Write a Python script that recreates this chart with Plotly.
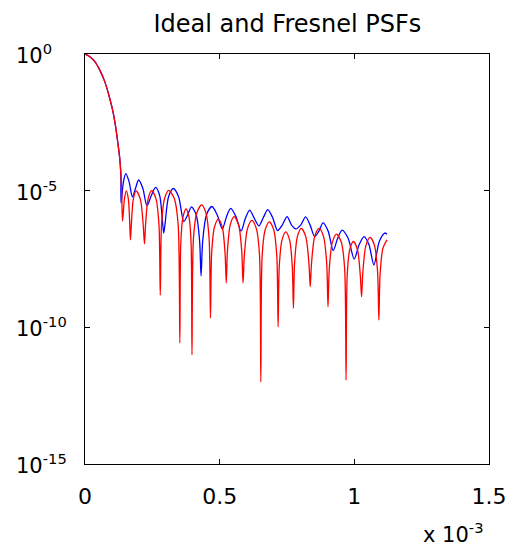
import plotly.graph_objects as go

# Shared main lobe (x in units of 1e-3, log10 of PSF value)
main_x = [0.0000, 0.0183, 0.0367, 0.0550, 0.0734, 0.0917, 0.1038, 0.1137, 0.1221, 0.1284, 0.1331]
main_log = [0.00, -0.10, -0.28, -0.59, -1.01, -1.62, -2.11, -2.66, -3.27, -3.76, -4.37]

# Ideal PSF side lobes (blue)
ideal_x = [0.1339, 0.1427, 0.1515, 0.1638, 0.1760, 0.1876, 0.1991, 0.2146, 0.2300, 0.2461,
           0.2622, 0.2773, 0.2878, 0.2923, 0.2977, 0.3103, 0.3282, 0.3475, 0.3668, 0.3811,
           0.3953, 0.4131, 0.4256, 0.4309, 0.4370, 0.4511, 0.4713, 0.4906, 0.5098, 0.5254,
           0.5410, 0.5603, 0.5795, 0.5955, 0.6114, 0.6285, 0.6455, 0.6620, 0.6785, 0.6969,
           0.7152, 0.7328, 0.7504, 0.7664, 0.7823, 0.8007, 0.8190, 0.8359, 0.8527, 0.8683,
           0.8839, 0.9028, 0.9216, 0.9381, 0.9546, 0.9770, 0.9994, 1.0178, 1.0361, 1.0544,
           1.0727, 1.0929, 1.1131, 1.1211]
ideal_log = [-5.45, -4.68, -4.38, -4.68, -5.23, -4.91, -4.61, -4.91, -5.55, -5.18,
             -4.88, -5.18, -6.14, -6.55, -6.18, -5.22, -4.92, -5.22, -6.13, -5.89,
             -5.59, -5.89, -6.85, -8.12, -6.84, -5.88, -5.58, -5.88, -6.40, -5.95,
             -5.65, -5.95, -6.48, -6.01, -5.71, -6.01, -6.29, -5.99, -5.69, -5.99,
             -6.46, -6.25, -5.95, -6.25, -6.40, -6.26, -5.96, -6.26, -6.68, -6.48,
             -6.18, -6.48, -7.19, -6.74, -6.44, -6.74, -7.50, -6.98, -6.68, -6.98,
             -7.72, -6.85, -6.55, -6.59]

# Fresnel PSF side lobes (red)
fresnel_x = [0.1360, 0.1394, 0.1464, 0.1533, 0.1610, 0.1664, 0.1687, 0.1719, 0.1794, 0.1900,
             0.2054, 0.2162, 0.2208, 0.2248, 0.2342, 0.2476, 0.2636, 0.2747, 0.2795, 0.2842,
             0.2953, 0.3110, 0.3316, 0.3459, 0.3521, 0.3556, 0.3637, 0.3752, 0.3862, 0.3939,
             0.3972, 0.4025, 0.4150, 0.4328, 0.4493, 0.4609, 0.4658, 0.4702, 0.4805, 0.4951,
             0.5098, 0.5201, 0.5245, 0.5289, 0.5392, 0.5538, 0.5703, 0.5819, 0.5868, 0.5918,
             0.6033, 0.6198, 0.6363, 0.6479, 0.6528, 0.6576, 0.6688, 0.6847, 0.7009, 0.7122,
             0.7170, 0.7213, 0.7313, 0.7456, 0.7597, 0.7696, 0.7738, 0.7782, 0.7885, 0.8032,
             0.8197, 0.8313, 0.8362, 0.8412, 0.8527, 0.8692, 0.8857, 0.8973, 0.9022, 0.9070,
             0.9182, 0.9341, 0.9517, 0.9640, 0.9693, 0.9734, 0.9829, 0.9965, 1.0117, 1.0223,
             1.0269, 1.0317, 1.0429, 1.0588, 1.0750, 1.0863, 1.0911, 1.0956, 1.1062, 1.1212]
fresnel_log = [-5.00, -6.11, -5.31, -5.01, -5.31, -6.27, -6.80, -6.27, -5.31, -5.01,
               -5.31, -6.27, -6.95, -6.26, -5.30, -5.00, -5.30, -6.26, -8.82, -6.25,
               -5.29, -4.99, -5.29, -6.25, -10.57, -6.93, -5.97, -5.67, -5.97, -6.93,
               -11.01, -6.78, -5.82, -5.52, -5.82, -6.78, -9.66, -7.30, -6.34, -6.04,
               -6.34, -7.30, -8.38, -7.21, -6.25, -5.95, -6.25, -7.21, -8.38, -7.35,
               -6.39, -6.09, -6.39, -7.35, -12.00, -7.40, -6.44, -6.14, -6.44, -7.40,
               -9.98, -7.77, -6.81, -6.51, -6.81, -7.77, -9.30, -7.64, -6.68, -6.38,
               -6.68, -7.64, -8.51, -7.64, -6.68, -6.38, -6.68, -7.64, -9.25, -7.85,
               -6.89, -6.59, -6.89, -7.85, -11.93, -8.12, -7.16, -6.86, -7.16, -8.12,
               -8.88, -7.97, -7.01, -6.71, -7.01, -7.97, -9.73, -8.06, -7.10, -6.80]

x_ticks = [0, 0.5, 1, 1.5]
x_tick_text = ["0", "0.5", "1", "1.5"]
y_tick_exps = [0, -5, -10, -15]

blue_x = main_x + ideal_x
blue_y = [10 ** v for v in main_log + ideal_log]
red_x = main_x + fresnel_x
red_y = [10 ** v for v in main_log + fresnel_log]

FONT = "DejaVu Sans"
W, H = 511, 544

fig = go.Figure()
fig.add_trace(go.Scatter(x=blue_x, y=blue_y, mode="lines",
                         line=dict(color="#0000ff", width=1.3, shape="spline", smoothing=0.8),
                         name="Ideal"))
fig.add_trace(go.Scatter(x=red_x, y=red_y, mode="lines",
                         line=dict(color="#ff0000", width=1.3, shape="spline", smoothing=0.8),
                         name="Fresnel"))

annotations = []
for e in y_tick_exps:
    annotations.append(dict(text=f"10<sup>{e}</sup>", xref="paper", yref="y",
                            x=-0.176, y=e, xanchor="left", yanchor="middle",
                            yshift=0, showarrow=False,
                            font=dict(family=FONT, size=21, color="black")))
annotations.append(dict(text="x 10<sup>-3</sup>", xref="paper", yref="paper",
                        x=0.99, y=-0.168, xanchor="right", yanchor="middle",
                        showarrow=False, font=dict(family=FONT, size=21, color="black")))

fig.update_layout(
    width=W, height=H,
    margin=dict(l=77, r=26, t=46, b=88),
    paper_bgcolor="white", plot_bgcolor="white",
    showlegend=False,
    title=dict(text="Ideal and Fresnel PSFs", x=0.501, xref="paper", xanchor="center",
               y=1 - 16 / H, yref="container", yanchor="middle",
               font=dict(family=FONT, size=24, color="black")),
    xaxis=dict(range=[0, 1.5], tickvals=x_ticks, ticktext=x_tick_text,
               ticks="inside", ticklen=5, tickcolor="black", tickwidth=1,
               showline=True, linecolor="black", linewidth=1, mirror="ticks",
               showgrid=False, zeroline=False, ticklabelstandoff=13,
               tickfont=dict(family=FONT, size=22, color="black")),
    yaxis=dict(type="log", range=[-15, 0], tickvals=[10 ** e for e in y_tick_exps],
               ticks="inside", ticklen=5, tickcolor="black", tickwidth=1,
               showline=True, linecolor="black", linewidth=1, mirror="ticks",
               showgrid=False, zeroline=False, showticklabels=False),
    annotations=annotations,
)

fig.write_html("out.html")
